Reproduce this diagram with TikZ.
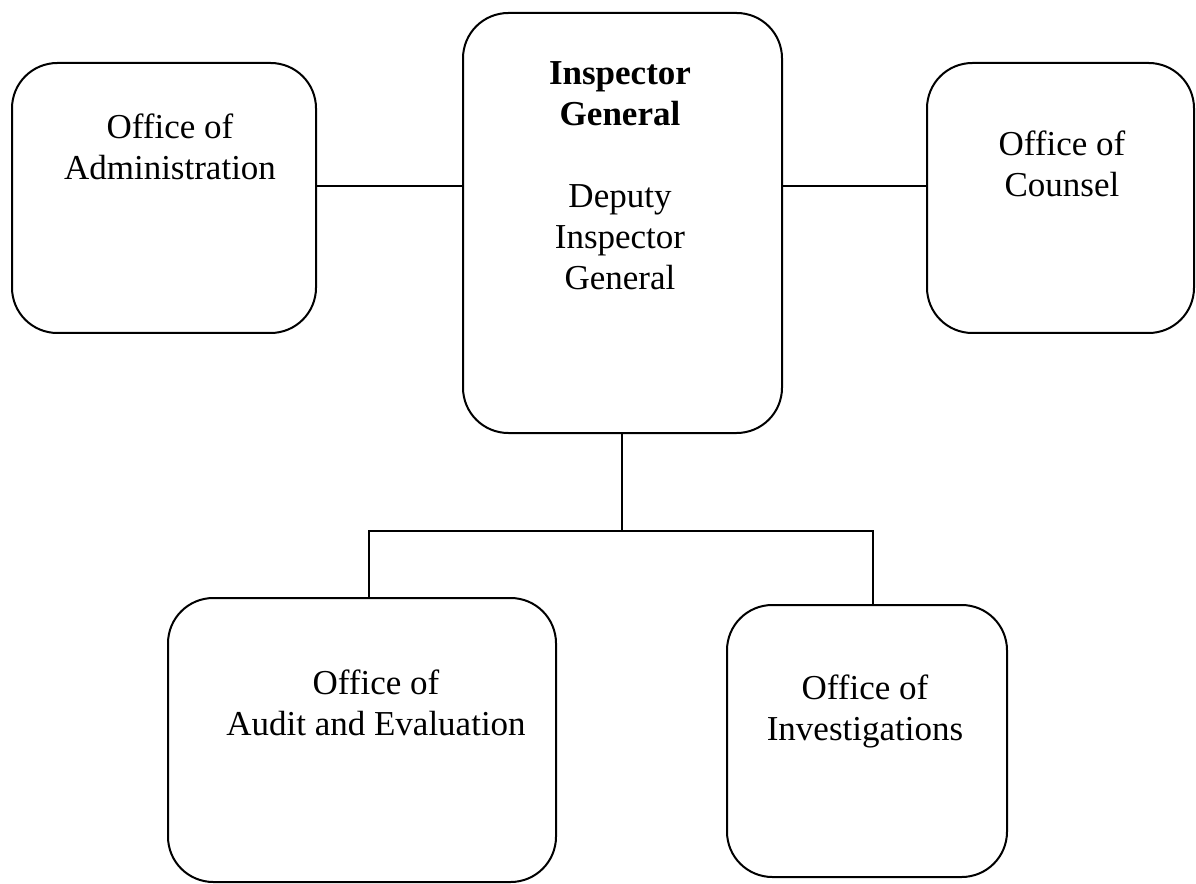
\documentclass[tikz,border=0pt]{standalone}
\usepackage{fontspec}
\setmainfont{Liberation Serif}
\begin{document}
\begin{tikzpicture}[x=0.75pt,y=-0.75pt,
  box/.style={draw=black,line width=1.5pt,rounded corners=34pt,inner sep=0pt,outer sep=0pt},
  lbl/.style={align=center,anchor=base,inner sep=0pt,font=\fontsize{26.25}{30.75}\selectfont},
  conn/.style={draw=black,line width=1.5pt}]
\useasboundingbox (0,0) rectangle (1196,884);
% boxes
\node[box,minimum width=304*0.75pt,minimum height=270*0.75pt] (adm) at (164,198) {};
\node[box,minimum width=319*0.75pt,minimum height=420*0.75pt] (ig) at (622.5,223) {};
\node[box,minimum width=267*0.75pt,minimum height=270*0.75pt] (cou) at (1060.5,198) {};
\node[box,minimum width=388*0.75pt,minimum height=284*0.75pt] (aud) at (362,740) {};
\node[box,minimum width=280*0.75pt,minimum height=272*0.75pt] (inv) at (867,741) {};
% texts (anchor=base is the baseline of the last line)
\node[lbl] (admt) at (170,180) {Office of\\Administration};
\node[lbl] (igt) at (620,290) {\textbf{Inspector}\\\textbf{General}\\[31pt]Deputy\\Inspector\\General};
\node[lbl] (cout) at (1062,197) {Office of\\Counsel};
\node[lbl] (audt) at (376,735) {Office of\\Audit and Evaluation};
\node[lbl] (invt) at (865,740) {Office of\\Investigations};
% connectors
\coordinate (hub) at (622,531);
\draw[conn] (adm.east |- 0,186) -- (ig.west |- 0,186);
\draw[conn] (ig.east |- 0,186) -- (cou.west |- 0,186);
\draw[conn] (ig.south -| hub) -- (hub);
\draw[conn] (aud.north -| 369,0) -- (369,531) -- (873,531) -- (inv.north -| 873,0);
\end{tikzpicture}
\end{document}
